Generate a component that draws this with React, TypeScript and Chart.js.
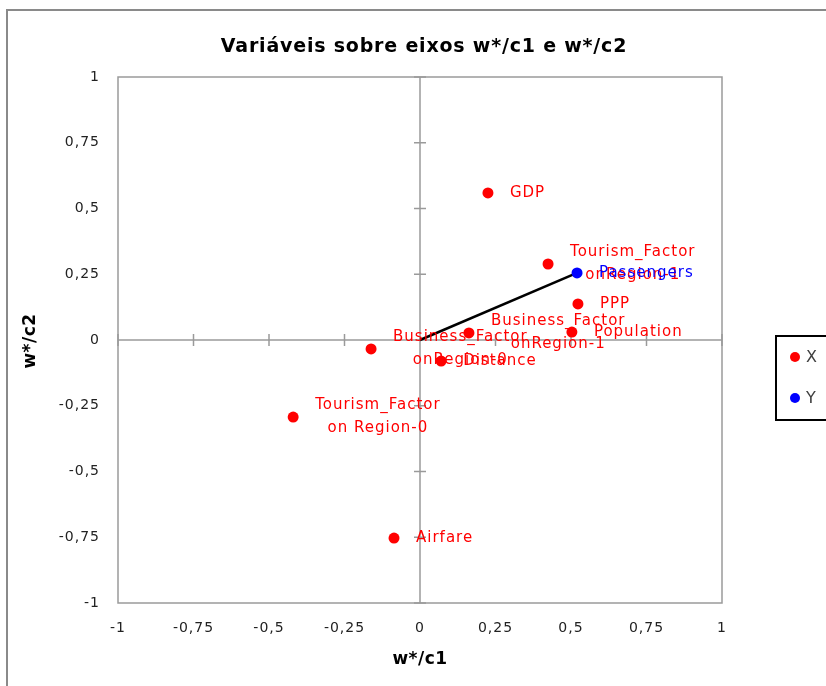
import { useEffect, useRef } from "react";
import { Chart, registerables } from "chart.js";

Chart.register(...registerables);

const titleText = "Variáveis sobre eixos w*/c1 e w*/c2";
const xAxisTitle = "w*/c1";
const yAxisTitle = "w*/c2";

const xNames = [
  "GDP",
  "Tourism_Factor\nonRegion-1",
  "PPP",
  "Population",
  "Business_Factor\nonRegion-1",
  "Business_Factor\nonRegion-0",
  "Distance",
  "Tourism_Factor\non Region-0",
  "Airfare",
];
const xC1 = [0.225, 0.424, 0.523, 0.503, 0.162, -0.162, 0.07, -0.42, -0.086];
const xC2 = [0.559, 0.289, 0.137, 0.03, 0.027, -0.034, -0.08, -0.293, -0.753];

const yNames = ["Passengers"];
const yC1 = [0.52];
const yC2 = [0.255];

const legendNames = ["X", "Y"];
const axisMin = -1;
const axisMax = 1;
const axisStep = 0.25;

const RED = "#ff0000";
const BLUE = "#0000ff";
const GRAY = "#9a9a9a";
const FONT = "DejaVu Sans";

const fmt = (v: number) => String(Math.round(v * 100) / 100).replace(".", ",");

const decorPlugin = {
  id: "decor",
  beforeDraw(chart: any) {
    const ctx = chart.ctx;
    ctx.save();
    ctx.fillStyle = "#fff";
    ctx.fillRect(0, 0, chart.width, chart.height);
    ctx.strokeStyle = "#8a8a8a";
    ctx.lineWidth = 2;
    ctx.beginPath();
    ctx.moveTo(7, chart.height);
    ctx.lineTo(7, 10);
    ctx.lineTo(chart.width, 10);
    ctx.stroke();
    ctx.restore();
    ctx.letterSpacing = "1px";
  },
  beforeDatasetsDraw(chart: any) {
    const ctx = chart.ctx;
    const a = chart.chartArea;
    const xs = chart.scales.x;
    const ys = chart.scales.y;
    const x0 = xs.getPixelForValue(0);
    const y0 = ys.getPixelForValue(0);
    ctx.save();
    ctx.strokeStyle = GRAY;
    ctx.lineWidth = 1.5;
    ctx.strokeRect(a.left, a.top, a.right - a.left, a.bottom - a.top);
    ctx.beginPath();
    ctx.moveTo(a.left, y0);
    ctx.lineTo(a.right, y0);
    ctx.moveTo(x0, a.top);
    ctx.lineTo(x0, a.bottom);
    for (let v = axisMin; v <= axisMax + 1e-9; v += axisStep) {
      const px = xs.getPixelForValue(v);
      ctx.moveTo(px, y0 - 6);
      ctx.lineTo(px, y0 + 6);
      const py = ys.getPixelForValue(v);
      ctx.moveTo(x0 - 6, py);
      ctx.lineTo(x0 + 6, py);
    }
    ctx.stroke();
    ctx.restore();
  },
  afterDatasetsDraw(chart: any) {
    const ctx = chart.ctx;
    ctx.save();
    ctx.letterSpacing = "1px";
    ctx.font = `15px "${FONT}"`;
    ctx.textAlign = "center";
    ctx.textBaseline = "middle";
    const drawLabels = (dsIndex: number, names: string[], color: string) => {
      const meta = chart.getDatasetMeta(dsIndex);
      ctx.fillStyle = color;
      meta.data.forEach((el: any, i: number) => {
        const lines = names[i].split("\n");
        const w = Math.max(...lines.map((l) => ctx.measureText(l).width));
        const cx = el.x + 22 + w / 2;
        lines.forEach((l, j) => {
          ctx.fillText(l, cx, el.y + (j - (lines.length - 1) / 2) * 23);
        });
      });
    };
    drawLabels(1, xNames, RED);
    drawLabels(2, yNames, BLUE);

    // title
    ctx.fillStyle = "#000";
    ctx.font = `bold 19px "${FONT}"`;
    ctx.letterSpacing = "0.8px";
    ctx.fillText(titleText, 424, 47);
    // axis titles
    ctx.font = `bold 17px "${FONT}"`;
    ctx.letterSpacing = "0.5px";
    ctx.fillText(xAxisTitle, 420, 660);
    ctx.save();
    ctx.translate(31, 341);
    ctx.rotate(-Math.PI / 2);
    ctx.fillText(yAxisTitle, 0, 0);
    ctx.restore();

    // legend
    ctx.strokeStyle = "#000";
    ctx.lineWidth = 2;
    ctx.strokeRect(776, 336, 70, 84);
    const colors = [RED, BLUE];
    const ly = [357, 398];
    ctx.font = `16px "${FONT}"`;
    ctx.letterSpacing = "1px";
    ctx.textAlign = "left";
    legendNames.forEach((n, i) => {
      ctx.fillStyle = colors[i];
      ctx.beginPath();
      ctx.arc(795, ly[i], 5, 0, Math.PI * 2);
      ctx.fill();
      ctx.fillStyle = "#404040";
      ctx.fillText(n, 806, ly[i] + 1);
    });
    ctx.restore();
  },
};

export default function App() {
  const ref = useRef<HTMLCanvasElement | null>(null);
  useEffect(() => {
    if (!ref.current) return;
    const chart = new Chart(ref.current, {
      type: "scatter",
      data: {
        datasets: [
          {
            type: "line",
            label: "vec",
            data: [
              { x: 0, y: 0 },
              { x: yC1[0], y: yC2[0] },
            ],
            borderColor: "#000",
            borderWidth: 2.5,
            pointRadius: 0,
            order: 3,
          } as any,
          {
            label: legendNames[0],
            data: xC1.map((x, i) => ({ x, y: xC2[i] })),
            backgroundColor: RED,
            borderWidth: 0,
            pointRadius: 5.5,
            order: 2,
          },
          {
            label: legendNames[1],
            data: yC1.map((x, i) => ({ x, y: yC2[i] })),
            backgroundColor: BLUE,
            borderWidth: 0,
            pointRadius: 5.5,
            order: 1,
          },
        ],
      },
      options: {
        responsive: false,
        animation: false,
        layout: { padding: { top: 77, right: 104, left: 0, bottom: 0 } },
        plugins: { legend: { display: false }, tooltip: { enabled: false }, title: { display: false } },
        scales: {
          x: {
            type: "linear",
            min: axisMin,
            max: axisMax,
            grid: { display: false, drawTicks: false },
            border: { display: false },
            ticks: {
              stepSize: axisStep,
              padding: 17,
              color: "#222",
              font: { family: FONT, size: 14 },
              maxRotation: 0,
              callback: (v: any) => fmt(Number(v)),
            },
            afterFit: (s: any) => {
              s.height = 83;
            },
          },
          y: {
            type: "linear",
            min: axisMin,
            max: axisMax,
            grid: { display: false, drawTicks: false },
            border: { display: false },
            ticks: {
              stepSize: axisStep,
              padding: 18,
              color: "#222",
              font: { family: FONT, size: 14 },
              callback: (v: any) => fmt(Number(v)),
            },
            afterFit: (s: any) => {
              s.width = 118;
            },
          },
        },
      },
      plugins: [decorPlugin],
    });
    return () => chart.destroy();
  }, []);
  return (
    <div style={{ position: "fixed", left: 0, top: 0, width: 826, height: 686, background: "#fff" }}>
      <canvas ref={ref} width={826} height={686} />
    </div>
  );
}
